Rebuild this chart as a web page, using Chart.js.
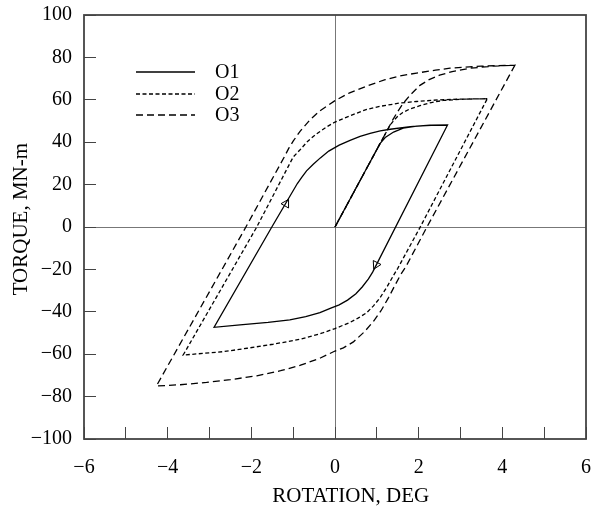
<!DOCTYPE html>
<html>
<head>
<meta charset="utf-8">
<title>Torque vs rotation</title>
<script src="https://cdn.jsdelivr.net/npm/chart.js@4.4.1/dist/chart.umd.min.js"></script>
<style>
  html, body { margin: 0; padding: 0; background: #fff; }
  canvas { display: block; }
</style>
</head>
<body>
<canvas id="myChart" width="603" height="513"></canvas>
<script>
// rotation (deg), torque (MN-m)
var o1 = [
  [0, 0], [1.08, 39.5], [1.2, 42.2], [1.4, 44.8], [1.63, 46.6], [1.95, 47.6], [2.3, 48.0], [2.69, 48.1],
  [0.9, -21.3], [0.8, -24.5], [0.65, -28.3], [0.5, -31.5], [0.3, -34.5], [0.1, -36.7], [-0.1, -38.3],
  [-0.36, -40.4], [-0.7, -42.3], [-1.08, -43.8], [-1.6, -45], [-2.27, -46.2], [-2.89, -47.3],
  [-1.51, 0], [-0.9, 20.5], [-0.8, 23.3], [-0.68, 26.5], [-0.52, 29.6], [-0.35, 32.6], [-0.15, 35.8],
  [0.1, 38.6], [0.36, 40.9], [0.6, 42.7], [0.84, 44.2], [1.08, 45.3], [1.32, 46.1], [1.8, 47.3], [2.27, 48.0], [2.69, 48.1]
];
var o2 = [
  [0, 0], [1.3, 47.5], [1.4, 50.2], [1.5, 52.2], [1.62, 54], [1.78, 55.6], [2.03, 57.2], [2.3, 58.7], [2.59, 59.7], [3.1, 60.3], [3.64, 60.5],
  [2.03, -0.3], [1.5, -19.5], [1.4, -22.8], [1.25, -28], [1.08, -33.3], [0.92, -37.2], [0.76, -40.4], [0.55, -43],
  [0.36, -45], [0.15, -46.7], [0, -47.9], [-0.3, -50], [-0.84, -53], [-1.48, -55.3], [-2.1, -57.2], [-2.67, -58.8], [-3.63, -60.4],
  [-1.87, 0], [-1.0, 33], [-0.84, 36.3], [-0.65, 40.5], [-0.45, 43.8], [-0.2, 47.2], [0, 49.5], [0.4, 52.8],
  [0.76, 55.5], [1.1, 57], [1.56, 58.5], [1.95, 59.2], [2.51, 60], [3.0, 60.3], [3.64, 60.5]
];
var o3 = [
  [0, 0], [1.3, 47.5], [1.38, 50.5], [1.5, 54.5], [1.63, 58.3], [1.8, 62.3], [2.03, 66.8], [2.25, 69.5], [2.5, 71.6], [2.8, 73.3], [3.23, 74.9], [3.8, 75.9], [4.3, 76.3],
  [2.19, -0.3], [1.7, -18.5], [1.56, -22.8], [1.42, -28], [1.28, -33.3], [1.1, -39.5], [0.92, -44.5], [0.7, -49.5],
  [0.44, -54.2], [0.2, -57], [0, -58.5], [-0.35, -61.8], [-0.84, -65.3], [-1.3, -67.8], [-1.87, -70.2], [-2.5, -72],
  [-3.07, -73.3], [-3.7, -74.4], [-4.27, -75],
  [-2.13, 0], [-1.2, 33.5], [-1.1, 37.3], [-1.0, 40.5], [-0.84, 45], [-0.6, 50.5], [-0.36, 54.8], [-0.15, 57.6], [0, 59.6],
  [0.35, 63.3], [0.8, 66.8], [1.2, 69.5], [1.56, 71.3], [1.95, 72.6], [2.4, 74], [2.75, 74.9], [3.5, 75.9], [4.3, 76.3]
];
// arrow heads on the O1 loop and their direction (deg, clockwise from up)
var arrowPts = [[-1.17, 11], [0.98, -17.8]];
var arrowRot = [30, 207];

var seriesNames = ['O1', 'O2', 'O3'];
var seriesDash = [[], [4, 2.5], [7, 4]];

function pts(a) { return a.map(function (p) { return {x: p[0], y: p[1]}; }); }
function fmt(v) { return v < 0 ? '\u2212' + Math.abs(v) : '' + v; }

var FONT = 'Liberation Serif';

// box around plot + legend inside the plot area
var framePlugin = {
  id: 'frame',
  afterDatasetsDraw: function (chart) {
    var c = chart.ctx, a = chart.chartArea;
    c.save();
    c.strokeStyle = '#444';
    c.lineWidth = 1.8;
    c.strokeRect(a.left, a.top, a.right - a.left, a.bottom - a.top);
    var ys = [57, 79, 100];
    c.font = '20px "' + FONT + '"';
    c.fillStyle = '#000';
    c.textBaseline = 'middle';
    for (var i = 0; i < seriesNames.length; i++) {
      c.beginPath();
      c.setLineDash(seriesDash[i]);
      c.lineWidth = 1.3;
      c.strokeStyle = '#000';
      c.moveTo(a.left + 52, a.top + ys[i]);
      c.lineTo(a.left + 111, a.top + ys[i]);
      c.stroke();
      c.setLineDash([]);
      c.fillText(seriesNames[i], a.left + 131, a.top + ys[i] + 1);
    }
    c.restore();
  }
};

var loops = [o1, o2, o3];
var datasets = loops.map(function (d, i) {
  return {
    label: seriesNames[i],
    data: pts(d),
    showLine: true,
    borderColor: '#000',
    borderWidth: 1.3,
    borderDash: seriesDash[i],
    pointRadius: 0,
    tension: 0
  };
});
datasets.push({
  label: 'arrows',
  data: pts(arrowPts),
  showLine: false,
  pointStyle: 'triangle',
  rotation: arrowRot,
  pointRadius: 5,
  borderColor: '#000',
  borderWidth: 1,
  backgroundColor: '#fff'
});

var myChart = new Chart(document.getElementById('myChart').getContext('2d'), {
  type: 'scatter',
  data: { datasets: datasets },
  plugins: [framePlugin],
  options: {
    responsive: false,
    animation: false,
    layout: { autoPadding: false, padding: { top: 15, right: 17, left: 0, bottom: 0 } },
    plugins: { legend: { display: false }, tooltip: { enabled: false } },
    scales: {
      x: {
        type: 'linear',
        min: -6, max: 6,
        afterFit: function (s) { s.height = 74; s.paddingLeft = 0; s.paddingRight = 0; },
        border: { display: false },
        grid: {
          color: function (ctx) { return ctx.tick && ctx.tick.value === 0 ? '#777' : 'rgba(0,0,0,0)'; },
          tickColor: '#444',
          tickLength: -12,
          lineWidth: 1
        },
        ticks: {
          stepSize: 1,
          autoSkip: false,
          maxRotation: 0,
          padding: 29,
          color: '#000',
          font: { family: FONT, size: 20 },
          callback: function (v) { return v % 2 === 0 ? fmt(v) : ''; }
        },
        title: {
          display: true,
          text: '      ROTATION, DEG',
          color: '#000',
          font: { family: FONT, size: 21 },
          padding: { top: 0, bottom: 4 }
        }
      },
      y: {
        type: 'linear',
        min: -100, max: 100,
        afterFit: function (s) { s.width = 84; s.paddingTop = 0; s.paddingBottom = 0; },
        border: { display: false },
        grid: {
          color: function (ctx) { return ctx.tick && ctx.tick.value === 0 ? '#777' : 'rgba(0,0,0,0)'; },
          tickColor: '#444',
          tickLength: -12,
          lineWidth: 1
        },
        ticks: {
          stepSize: 20,
          padding: 24,
          color: '#000',
          font: { family: FONT, size: 20 },
          callback: function (v) { return fmt(v); }
        },
        title: {
          display: true,
          text: '   TORQUE, MN-m',
          color: '#000',
          font: { family: FONT, size: 21 },
          padding: { top: 9, bottom: 0 }
        }
      }
    }
  }
});
</script>
</body>
</html>
